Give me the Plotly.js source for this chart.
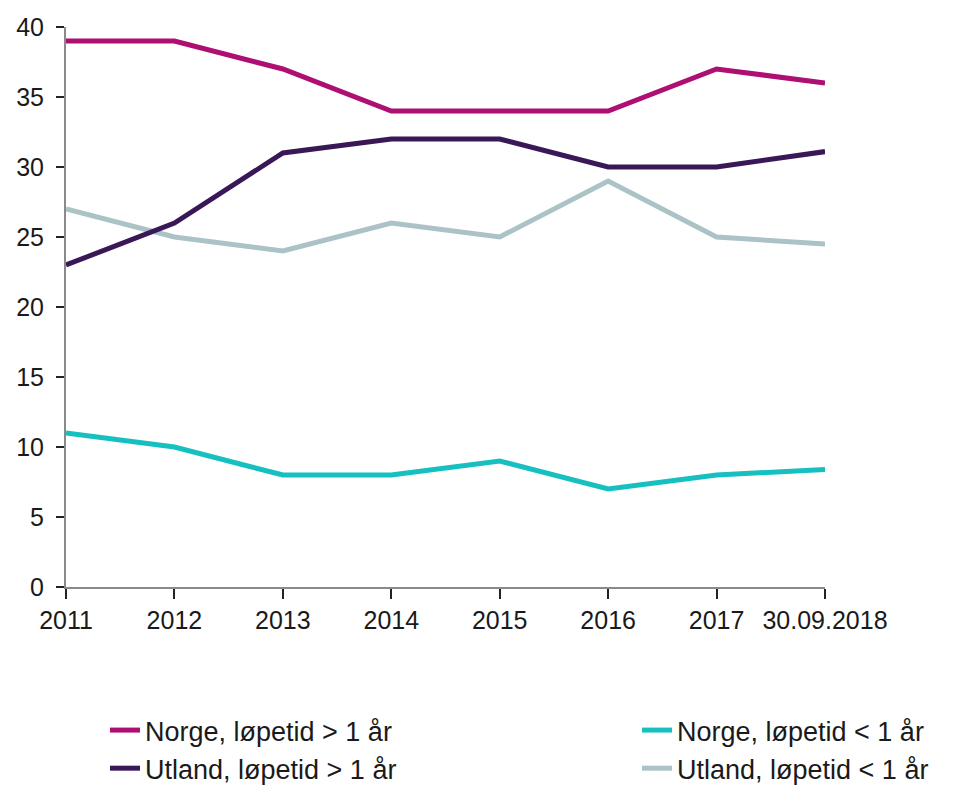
<!DOCTYPE html>
<html><head><meta charset="utf-8">
<script src="https://cdn.plot.ly/plotly-3.0.1.min.js"></script>
<style>body{margin:0;background:#fff}#c{width:961px;height:785px}</style>
</head><body><div id="c"></div>
<script>
const categories = ["2011","2012","2013","2014","2015","2016","2017","30.09.2018"];
const norgeLong = [39, 39, 37, 34, 34, 34, 37, 36];
const utlandLong = [23, 26, 31, 32, 32, 30, 30, 31.1];
const norgeShort = [11, 10, 8, 8, 9, 7, 8, 8.4];
const utlandShort = [27, 25, 24, 26, 25, 29, 25, 24.5];
const yTicks = [0,5,10,15,20,25,30,35,40];

const F = "Liberation Sans, Arial, sans-serif";
function tr(name, y, color, legend){
  return {x: categories, y: y, name: name, type: "scatter", mode: "lines",
    line: {color: color, width: 5}, legend: legend, hoverinfo: "skip"};
}
const data = [
  tr("Utland, løpetid < 1 år", utlandShort, "#abc3c6", "legend2"),
  tr("Norge, løpetid < 1 år", norgeShort, "#17c0c0", "legend2"),
  tr("Utland, løpetid > 1 år", utlandLong, "#3a1858", "legend"),
  tr("Norge, løpetid > 1 år", norgeLong, "#ad0f72", "legend")
];
const legendCommon = {orientation: "v", traceorder: "reversed", font: {family: F, size: 27, color: "#1a1a1a"},
  bgcolor: "rgba(0,0,0,0)", itemwidth: 30, tracegroupgap: 0, yanchor: "top", xanchor: "left",
  xref: "container", yref: "container", y: 0.1006};
const layout = {
  width: 961, height: 785,
  margin: {l: 66, r: 136, t: 27, b: 198, autoexpand: false},
  paper_bgcolor: "#fff", plot_bgcolor: "#fff",
  font: {family: F, size: 25, color: "#1a1a1a"},
  showlegend: true,
  xaxis: {type: "category", range: [0, 7], showgrid: false, zeroline: false,
    showline: true, linecolor: "#8a8a8a", linewidth: 2,
    ticks: "outside", ticklen: 10, tickcolor: "#222", tickwidth: 2, tickangle: 0,
    tickfont: {family: F, size: 25, color: "#1a1a1a"}, fixedrange: true, automargin: false},
  yaxis: {range: [0, 40], tickvals: yTicks, showgrid: false, zeroline: false,
    showline: true, linecolor: "#8a8a8a", linewidth: 2,
    ticks: "outside", ticklen: 8, tickcolor: "#222", tickwidth: 2, ticklabelstandoff: 7,
    tickfont: {family: F, size: 25, color: "#1a1a1a"}, fixedrange: true, automargin: false},
  legend: Object.assign({}, legendCommon, {x: 105/961}),
  legend2: Object.assign({}, legendCommon, {x: 637/961})
};
Plotly.newPlot("c", data, layout, {staticPlot: true});
</script></body></html>
